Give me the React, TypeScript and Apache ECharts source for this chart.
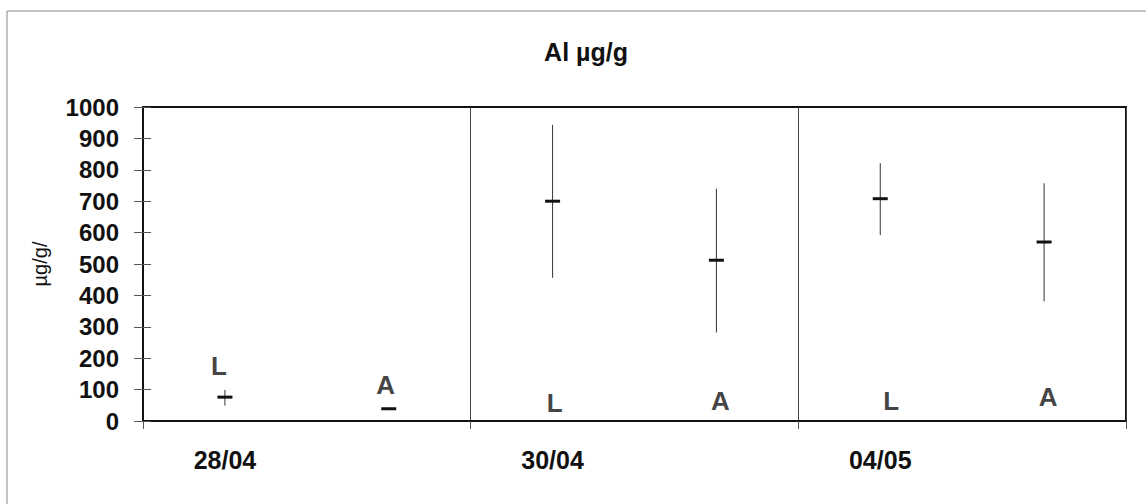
import React, { useEffect, useRef } from "react";
import * as echarts from "echarts";

const categories = ["28/04", "", "30/04", "", "04/05", ""];
const groups = ["L", "A", "L", "A", "L", "A"];
const means = [76, 39, 700, 512, 708, 570];
const lows = [49, 39, 456, 282, 592, 381];
const highs = [99, 39, 943, 740, 821, 757];
const labelY = [174, 115, 56, 64, 64, 75];
const labelDx = [-6, -3, 2, 4, 11, 4];

const FONT = '"Liberation Sans", Arial, Helvetica, sans-serif';

export default function App() {
  const ref = useRef<HTMLDivElement>(null);
  useEffect(() => {
    document.body.style.margin = "0";
    const chart = echarts.init(ref.current!, null, { renderer: "svg" });
    const errData = categories.map((_, i) => [i, means[i], lows[i], highs[i]]);
    const lblData = categories.map((_, i) => ({
      value: [i, labelY[i]],
      name: groups[i],
      label: { offset: [labelDx[i], 0] },
    }));
    chart.setOption({
      animation: false,
      backgroundColor: "#fff",
      textStyle: { fontFamily: FONT },
      grid: {
        left: 143,
        top: 107,
        right: 20,
        bottom: 83,
        show: true,
        borderColor: "#111",
        borderWidth: 2,
        backgroundColor: "transparent",
      },
      graphic: [
        {
          type: "rect",
          shape: { x: 7, y: 11, width: 1300, height: 700 },
          style: { fill: "none", stroke: "#888", lineWidth: 1 },
          silent: true,
          z: -1,
        },
        {
          type: "text",
          x: 586,
          y: 52,
          style: {
            text: "Al µg/g",
            align: "center",
            verticalAlign: "middle",
            font: `bold 25px ${FONT}`,
            fill: "#111",
          },
        },
      ],
      xAxis: {
        type: "category",
        data: categories,
        boundaryGap: true,
        axisLine: { show: true, lineStyle: { color: "#111", width: 2 } },
        axisTick: { show: true, interval: 1, length: 8, lineStyle: { color: "#555", width: 1 } },
        axisLabel: {
          interval: 1,
          margin: 26,
          color: "#111",
          fontSize: 25,
          fontWeight: "bold",
          fontFamily: FONT,
        },
        splitLine: { show: true, interval: 1, lineStyle: { color: "#444", width: 1 } },
      },
      yAxis: [
        {
          type: "value",
          min: 0,
          max: 1000,
          interval: 100,
          name: "µg/g/",
          nameLocation: "middle",
          nameGap: 93,
          nameTextStyle: { fontSize: 20, color: "#111", fontFamily: FONT },
          axisLine: { show: true, lineStyle: { color: "#111", width: 2 } },
          axisTick: { show: true, length: 9, lineStyle: { color: "#555", width: 1 } },
          axisLabel: {
            margin: 24,
            color: "#111",
            fontSize: 24,
            fontWeight: "bold",
            fontFamily: FONT,
            formatter: (v: number) => String(v),
          },
          splitLine: { show: false },
        },
        {
          type: "value",
          min: 0,
          max: 1000,
          interval: 100,
          position: "left",
          offset: 0,
          axisLine: { show: false },
          axisTick: { show: true, inside: true, length: 8, lineStyle: { color: "#555", width: 1 } },
          axisLabel: { show: false },
          splitLine: { show: false },
        },
      ],
      series: [
        {
          type: "custom",
          data: errData,
          encode: { x: 0, y: 1 },
          renderItem: (params: any, api: any) => {
            const x = api.value(0);
            const pm = api.coord([x, api.value(1)]);
            const pl = api.coord([x, api.value(2)]);
            const ph = api.coord([x, api.value(3)]);
            return {
              type: "group",
              children: [
                {
                  type: "line",
                  shape: { x1: pm[0], y1: ph[1], x2: pm[0], y2: pl[1] },
                  style: { stroke: "#333", lineWidth: 1 },
                },
                {
                  type: "rect",
                  shape: { x: pm[0] - 7.5, y: pm[1] - 1.5, width: 15, height: 3 },
                  style: { fill: "#111" },
                },
              ],
            };
          },
        },
        {
          type: "scatter",
          data: lblData,
          symbolSize: 0,
          itemStyle: { color: "transparent" },
          label: {
            show: true,
            position: "inside",
            formatter: (p: any) => p.name,
            color: "#111",
            fontSize: 26,
            fontWeight: "bold",
            fontFamily: FONT,
          },
        },
      ],
    });
    return () => chart.dispose();
  }, []);
  return <div ref={ref} style={{ width: 1146, height: 504 }} />;
}
